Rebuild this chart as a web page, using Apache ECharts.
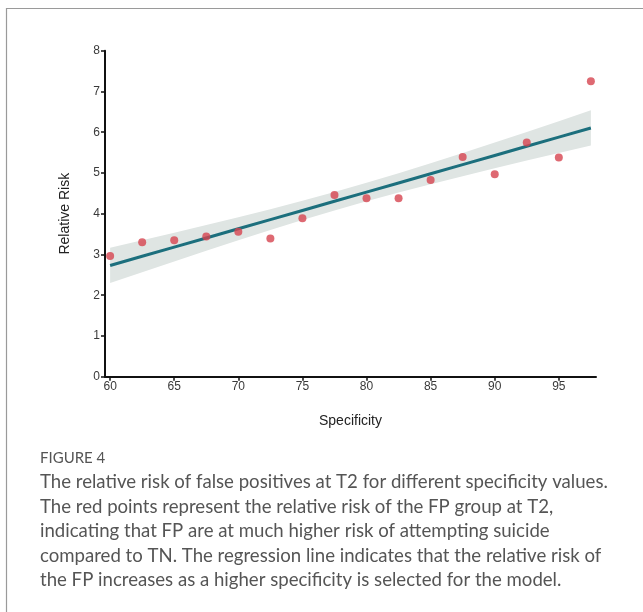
<!DOCTYPE html>
<html>
<head>
<meta charset="utf-8">
<script src="https://cdn.jsdelivr.net/npm/echarts@6/dist/echarts.min.js"></script>
<style>
html,body{margin:0;padding:0;background:#fff;}
#c{width:643px;height:612px;}
</style>
</head>
<body>
<div id="c"></div>
<script>
// Data
var specificity = [60, 62.5, 65, 67.5, 70, 72.5, 75, 77.5, 80, 82.5, 85, 87.5, 90, 92.5, 95, 97.5];
var relativeRisk = [2.96, 3.30, 3.35, 3.44, 3.56, 3.39, 3.89, 4.46, 4.38, 4.38, 4.83, 5.39, 4.97, 5.75, 5.38, 7.25];
var xTicks = [60, 65, 70, 75, 80, 85, 90, 95];
var yTicks = [0, 1, 2, 3, 4, 5, 6, 7, 8];
var captionTitle = 'FIGURE 4';
var captionLines = [
  'The relative risk of false positives at T2 for different specificity values.',
  'The red points represent the relative risk of the FP group at T2,',
  'indicating that FP are at much higher risk of attempting suicide',
  'compared to TN. The regression line indicates that the relative risk of',
  'the FP increases as a higher specificity is selected for the model.'
];

// Ordinary least squares fit with 95% confidence band
var n = specificity.length;
var mx = 0, my = 0;
for (var i = 0; i < n; i++) { mx += specificity[i]; my += relativeRisk[i]; }
mx /= n; my /= n;
var sxx = 0, sxy = 0;
for (i = 0; i < n; i++) { sxx += (specificity[i]-mx)*(specificity[i]-mx); sxy += (specificity[i]-mx)*(relativeRisk[i]-my); }
var slope = sxy / sxx, intercept = my - slope * mx;
var sse = 0;
for (i = 0; i < n; i++) { var r = relativeRisk[i] - (intercept + slope*specificity[i]); sse += r*r; }
var s = Math.sqrt(sse / (n - 2));
var tcrit = 2.145; // t(0.975, 14)
var fitLine = [], lower = [], upper = [];
for (i = 0; i < n; i++) {
  var x = specificity[i];
  var yh = intercept + slope * x;
  var hw = tcrit * s * Math.sqrt(1/n + (x-mx)*(x-mx)/sxx);
  fitLine.push([x, yh]);
  lower.push([x, yh - hw]);
  upper.push([x, yh + hw]);
}
var points = specificity.map(function(x, k){ return [x, relativeRisk[k]]; });

var chart = echarts.init(document.getElementById('c'), null, {renderer: 'canvas'});
var axisFont = 'Liberation Sans, Arial, sans-serif';
chart.setOption({
  animation: false,
  backgroundColor: '#fff',
  grid: {left: 105, right: 47, top: 50.7, bottom: 235.3, containLabel: false},
  xAxis: {
    type: 'value', min: 59.6, max: 97.9,
    name: 'Specificity', nameLocation: 'middle', nameGap: 37,
    nameTextStyle: {fontFamily: axisFont, fontSize: 14, color: '#222'},
    splitLine: {show: false},
    axisLine: {show: true, onZero: false, lineStyle: {color: '#111', width: 2}},
    axisTick: {show: true, length: 4, customValues: xTicks, lineStyle: {color: '#111', width: 1.5}},
    axisLabel: {customValues: xTicks, fontFamily: axisFont, fontSize: 12, color: '#3a3a3a', margin: 4}
  },
  yAxis: {
    type: 'value', min: 0, max: 8, interval: 1,
    name: 'Relative Risk', nameLocation: 'middle', nameGap: 33, nameRotate: 90,
    nameTextStyle: {fontFamily: axisFont, fontSize: 14, color: '#222'},
    splitLine: {show: false},
    axisLine: {show: true, onZero: false, lineStyle: {color: '#111', width: 2}},
    axisTick: {show: true, length: 4, lineStyle: {color: '#111', width: 1.5}},
    axisLabel: {fontFamily: axisFont, fontSize: 12, color: '#3a3a3a', margin: 5}
  },
  series: [
    {
      type: 'custom', silent: true, z: 1,
      data: [0],
      renderItem: function (params, api) {
        var pts = [];
        for (var k = 0; k < upper.length; k++) pts.push(api.coord(upper[k]));
        for (k = lower.length - 1; k >= 0; k--) pts.push(api.coord(lower[k]));
        return {type: 'polygon', shape: {points: pts}, style: {fill: '#dfe5e3', stroke: null}};
      }
    },
    {type: 'line', data: fitLine, symbol: 'none', lineStyle: {color: '#1c6f7d', width: 3}, z: 3},
    {type: 'scatter', data: points, symbol: 'circle', symbolSize: 8,
     itemStyle: {color: '#d6434f'}, z: 4}
  ],
  graphic: [
    {type: 'line', shape: {x1: 6, y1: 8.5, x2: 643, y2: 8.5}, style: {stroke: '#9a9a9a', lineWidth: 1.2}},
    {type: 'line', shape: {x1: 6.5, y1: 8, x2: 6.5, y2: 612}, style: {stroke: '#9a9a9a', lineWidth: 1.2}},
    {type: 'text', left: 40, top: 451, style: {text: captionTitle, font: '15px Lato, "Open Sans", sans-serif', fill: '#555'}},
    {type: 'text', left: 40, top: 470, style: {text: captionLines.join('\n'), font: '18.6px Lato, "Open Sans", sans-serif', fill: '#555', lineHeight: 24.5}}
  ]
});
</script>
</body>
</html>
